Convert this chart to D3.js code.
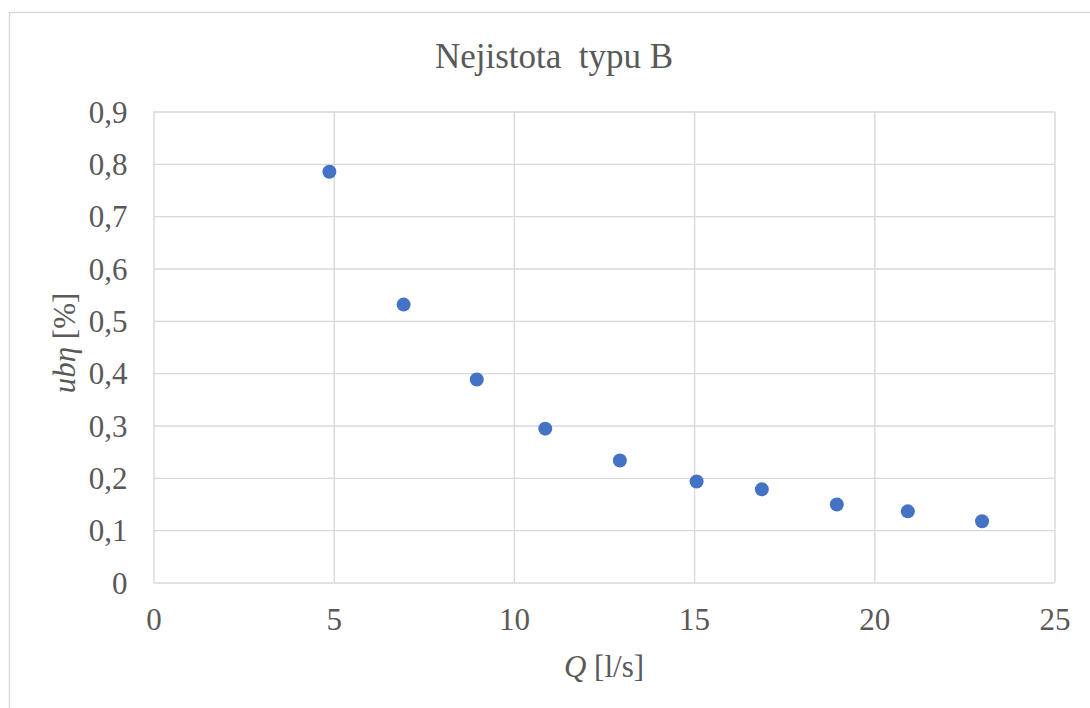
<!DOCTYPE html>
<html>
<head>
<meta charset="utf-8">
<script src="https://cdn.jsdelivr.net/npm/d3@7"></script>
<style>
  body { margin: 0; background: #fff; }
  svg text { font-family: "Liberation Serif", "Times New Roman", "DejaVu Serif", serif !important; fill: #595959; }
</style>
</head>
<body>
<script>
// flow rate Q [l/s] and type B uncertainty ubη [%]
const flowQ = [4.88, 6.94, 8.97, 10.87, 12.94, 15.07, 16.88, 18.96, 20.93, 22.99]
const ubEta = [0.785, 0.531, 0.388, 0.294, 0.233, 0.193, 0.178, 0.149, 0.136, 0.117]

const xTicks = [0, 5, 10, 15, 20, 25]
const yTicks = [0, 0.1, 0.2, 0.3, 0.4, 0.5, 0.6, 0.7, 0.8, 0.9]

const width = 1090, height = 708
const plot = { left: 153.5, right: 1054.5, top: 111.5, bottom: 582.5 }

const svg = d3.select('body').append('svg')
  .attr('width', width)
  .attr('height', height)

// outer chart frame (only top + left visible in the crop)
svg.append('path')
  .attr('d', `M9.5,${height} V12.5 H${width}`)
  .attr('fill', 'none')
  .attr('stroke', '#d9d9d9')
  .attr('stroke-width', 1.5)

const x = d3.scaleLinear().domain([0, 25]).range([plot.left, plot.right])
const y = d3.scaleLinear().domain([0, 0.9]).range([plot.bottom, plot.top])

const fmt = d => d3.format('.1f')(d).replace('.', ',').replace(/^0,0$/, '0')

// grid
svg.append('g')
  .attr('transform', `translate(0,${plot.bottom})`)
  .call(d3.axisBottom(x).tickValues(xTicks).tickSize(-(plot.bottom - plot.top)).tickFormat(''))
  .call(g => g.select('.domain').remove())
  .call(g => g.selectAll('line').attr('stroke', '#d9d9d9').attr('stroke-width', 1.4))

svg.append('g')
  .attr('transform', `translate(${plot.left},0)`)
  .call(d3.axisLeft(y).tickValues(yTicks).tickSize(-(plot.right - plot.left)).tickFormat(''))
  .call(g => g.select('.domain').remove())
  .call(g => g.selectAll('line').attr('stroke', '#d9d9d9').attr('stroke-width', 1.4))

// tick labels
svg.append('g')
  .attr('transform', `translate(0,${plot.bottom})`)
  .call(d3.axisBottom(x).tickValues(xTicks).tickSize(0).tickPadding(0).tickFormat(d3.format('d')))
  .call(g => g.attr('font-family', null).attr('font-size', null))
  .call(g => g.select('.domain').remove())
  .call(g => g.selectAll('text')
    .attr('dy', null)
    .attr('y', 47)
    .style('font-size', '31px')
    .attr('fill', '#595959'))

svg.append('g')
  .attr('transform', `translate(${plot.left},0)`)
  .call(d3.axisLeft(y).tickValues(yTicks).tickSize(0).tickPadding(0).tickFormat(fmt))
  .call(g => g.attr('font-family', null).attr('font-size', null))
  .call(g => g.select('.domain').remove())
  .call(g => g.selectAll('text')
    .attr('dy', '0.34em')
    .attr('x', -26)
    .style('font-size', '31px')
    .attr('fill', '#595959'))

// points
svg.append('g')
  .selectAll('circle')
  .data(flowQ.map((q, i) => [q, ubEta[i]]))
  .join('circle')
  .attr('cx', d => x(d[0]))
  .attr('cy', d => y(d[1]))
  .attr('r', 7)
  .attr('fill', '#4472c4')

// title
svg.append('text')
  .attr('x', 554)
  .attr('y', 68)
  .attr('text-anchor', 'middle')
  .style('font-size', '35px')
  .text('Nejistota\u00a0 typu B')

// axis titles
const xt = svg.append('text')
  .attr('x', 604)
  .attr('y', 677)
  .attr('text-anchor', 'middle')
  .style('font-size', '31px')
xt.append('tspan').style('font-style', 'italic').text('Q')
xt.append('tspan').text(' [l/s]')

const yt = svg.append('text')
  .attr('transform', 'translate(75,343) rotate(-90)')
  .attr('text-anchor', 'middle')
  .style('font-size', '31px')
yt.append('tspan').style('font-style', 'italic').text('ubη')
yt.append('tspan').text(' [%]')
</script>
</body>
</html>
